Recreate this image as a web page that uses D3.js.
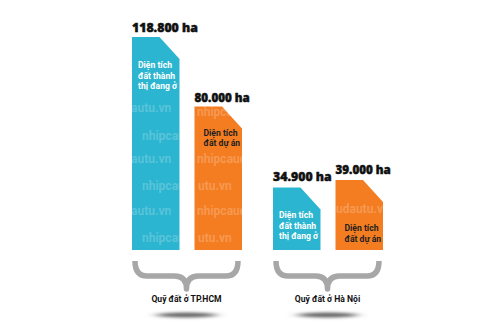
<!DOCTYPE html>
<html>
<head>
<meta charset="utf-8">
<script src="https://cdn.jsdelivr.net/npm/d3@7"></script>
<style>
  body { margin: 0; background: #fff; }
  svg { display: block; }
</style>
</head>
<body>
<svg id="chart" width="500" height="330"></svg>
<script>
// data
const groups = ['TP.HCM', 'Hà Nội']
const groupLabels = ['Quỹ đất ở TP.HCM', 'Quỹ đất ở Hà Nội']
const series = ['thi', 'duan']
const seriesLabels = [['Diện tích', 'đất thành', 'thị đang ở'], ['Diện tích', 'đất dự án']]
const valuesThi = [118800, 34900]
const valuesDuAn = [80000, 39000]
const valueLabels = [['118.800 ha', '80.000 ha'], ['34.900 ha', '39.000 ha']]
// watermark pieces seen through the bars: [bar index, text]
const watermark = [
    [0, 'autu.vn'], [0, 'nhipcau'], [0, 'autu.vn'], [0, 'nhipcau'], [0, 'autu.vn'], [0, 'nhipcau'],
    [1, 'nhipcauda'], [1, 'nhipcauda'], [1, 'utu.vn'], [1, 'nhipcauda'], [1, 'utu.vn'],
    [3, 'udautu.vn']
]

const colors = { thi: '#2cb5d0', duan: '#f47d22' }
const textColors = { thi: '#ffffff', duan: '#231f20' }
const cutW = 20, cutH = 22
const baseY = 250
// row positions of the watermark pieces, same order as above
const wmPos = [[131, 112], [142, 140], [131, 163], [142, 190], [131, 215], [142, 242],
    [197, 116], [197, 163], [198, 190], [197, 215], [198, 242],
    [336, 213]]

const svg = d3.select('#chart')

const x0 = d3.scaleBand().domain(groups).range([132, 383]).paddingInner(0.22)
const x1 = d3.scaleBand().domain(series).range([0, x0.bandwidth()]).paddingInner(0.24)
const y = d3.scaleLinear().domain([0, 118800]).range([baseY, 37])

let bars = []
groups.forEach((g, i) => {
    bars.push({ group: g, gi: i, key: 'thi', si: 0, value: valuesThi[i], label: valueLabels[i][0] })
    bars.push({ group: g, gi: i, key: 'duan', si: 1, value: valuesDuAn[i], label: valueLabels[i][1] })
})

const defs = svg.append('defs')
defs.append('filter').attr('id', 'blur').attr('x', '-50%').attr('y', '-300%').attr('width', '200%').attr('height', '700%')
    .append('feGaussianBlur').attr('stdDeviation', '6 1.8')

// bar outline with the cut top-right corner
bars.forEach((d, i) => {
    const bx = x0(d.group) + x1(d.key), w = x1.bandwidth(), top = y(d.value)
    d.x = bx; d.w = w; d.top = top
    d.path = `M${bx},${baseY}L${bx},${top}L${bx + w - cutW},${top}L${bx + w},${top + cutH}L${bx + w},${baseY}Z`
    defs.append('clipPath').attr('id', 'clip' + i).append('path').attr('d', d.path)
})

svg.selectAll('.bar')
    .data(bars)
    .join('path')
    .attr('class', 'bar')
    .attr('d', d => d.path)
    .attr('fill', d => colors[d.key])

// faint watermark inside the bars
svg.selectAll('.wm')
    .data(watermark)
    .join('text')
    .attr('class', 'wm')
    .attr('clip-path', d => `url(#clip${d[0]})`)
    .attr('x', (d, i) => wmPos[i][0])
    .attr('y', (d, i) => wmPos[i][1])
    .attr('font-family', 'Liberation Sans Narrow, Roboto, sans-serif')
    .attr('font-weight', 700)
    .attr('font-size', 12)
    .attr('fill', '#fff')
    .attr('fill-opacity', 0.22)
    .text(d => d[1])

// value labels above bars
svg.selectAll('.val')
    .data(bars)
    .join('text')
    .attr('class', 'val')
    .attr('x', d => d.x)
    .attr('y', d => d.top - (d.gi === 0 ? 5 : 6))
    .attr('font-family', 'Open Sans, sans-serif')
    .attr('font-weight', 800)
    .attr('font-size', d => d.si === 0 ? 12.3 : 11.6)
    .attr('fill', '#111')
    .attr('stroke', '#111')
    .attr('stroke-width', 0.45)
    .text(d => d.label)

// labels inside bars
bars.forEach(d => {
    const lines = seriesLabels[d.si]
    const startY = d.si === 0 ? d.top + 31 : (d.gi === 0 ? d.top + 29 : d.top + 51)
    const lx = d.x + 6 + d.si * 3
    svg.append('text')
        .attr('x', lx)
        .attr('y', startY)
        .attr('font-family', 'Liberation Sans Narrow, Roboto, sans-serif')
        .attr('font-weight', 700)
        .attr('font-size', 8.6)
        .attr('fill', textColors[d.key])
        .selectAll('tspan')
        .data(lines)
        .join('tspan')
        .attr('x', lx)
        .attr('dy', (t, j) => j === 0 ? 0 : 10.5)
        .text(t => t)
})

// braces, captions and shadows under each group
groups.forEach((g, i) => {
    const left = x0(g) + 3, right = x0(g) + x0.bandwidth() - 4
    const cx = (left + right) / 2
    const top = 261, mid = 276, tip = 289, r = 12
    const p = `M${left},${top}Q${left},${mid} ${left + r},${mid}L${cx - r},${mid}Q${cx},${mid} ${cx},${tip}` +
        `Q${cx},${mid} ${cx + r},${mid}L${right - r},${mid}Q${right},${mid} ${right},${top}`
    svg.append('path')
        .attr('d', p)
        .attr('fill', 'none')
        .attr('stroke', '#a7a7a7')
        .attr('stroke-width', 5.5)
        .attr('stroke-linejoin', 'round')

    svg.append('ellipse')
        .attr('cx', cx)
        .attr('cy', 315)
        .attr('rx', 30)
        .attr('ry', 2.5)
        .attr('fill', '#666')
        .attr('filter', 'url(#blur)')

    svg.append('text')
        .attr('x', cx)
        .attr('y', 302)
        .attr('text-anchor', 'middle')
        .attr('font-family', 'Liberation Sans Narrow, Roboto, sans-serif')
        .attr('font-weight', 700)
        .attr('font-size', 8.6)
        .attr('fill', '#111')
        .text(groupLabels[i])
})
</script>
</body>
</html>
